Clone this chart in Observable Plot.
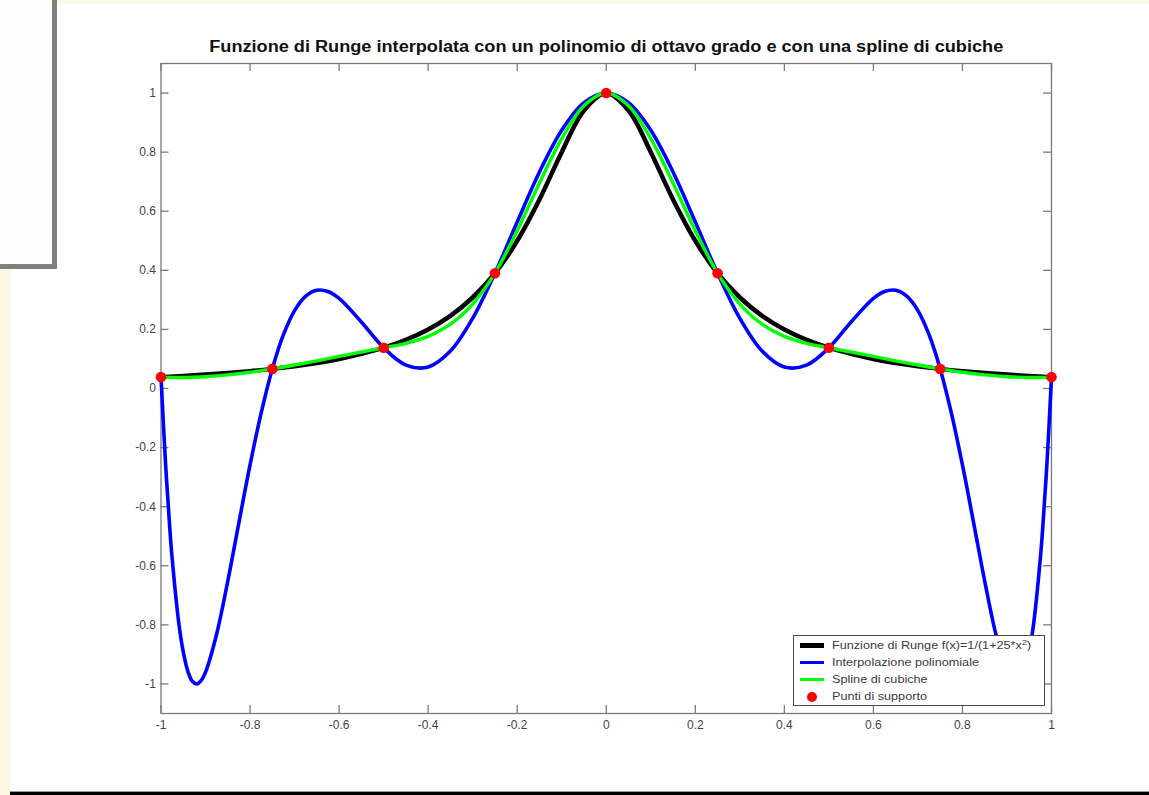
<!DOCTYPE html>
<html>
<head>
<meta charset="utf-8">
<script src="https://cdn.jsdelivr.net/npm/d3@7"></script>
<script src="https://cdn.jsdelivr.net/npm/@observablehq/plot@0.6"></script>
<style>
  html, body { margin: 0; padding: 0; background: #fff; }
  #page { position: relative; width: 1149px; height: 795px; overflow: hidden; background: #fff;
          font-family: "Liberation Sans", Arial, Helvetica, sans-serif; }
  .deco { position: absolute; }
  #chart { position: absolute; left: 0; top: 0; }
  #title { position: absolute; left: 160.5px; width: 890.5px; top: 38.5px; text-align: center;
           font-weight: bold; font-size: 16px; line-height: 16px; color: #111; white-space: nowrap; }
  #title span { display: inline-block; transform-origin: center; }
  #legend { position: absolute; left: 792.5px; top: 635px; width: 252.5px; height: 71px; box-sizing: border-box;
            border: 1px solid #4a4a4a; background: #fff; }
  .row { position: absolute; left: 0; width: 100%; height: 0; }
  .sample { position: absolute; left: 6.5px; width: 23.5px; }
  .ldot { position: absolute; width: 10px; height: 10px; border-radius: 50%; left: 13.5px; top: -5px; }
  .ltext { position: absolute; left: 38.7px; top: -7px; font-size: 11px; line-height: 13px; color: #3a3a3a;
           white-space: nowrap; transform: scaleX(1.15); transform-origin: left center; }
  .ltext sup { font-size: 8px; vertical-align: 4px; line-height: 0; }
</style>
</head>
<body>
<div id="page">
  <div id="chart"></div>
  <div class="deco" style="left:57px; top:0; width:1092px; height:3.5px; background:#fafae4;"></div>
  <div class="deco" style="left:0; top:269px; width:10px; height:526px; background:#fafae4;"></div>
  <div class="deco" style="left:0; top:0; width:52px; height:264px; background:#fdfdfd;"></div>
  <div class="deco" style="left:52px; top:0; width:5px; height:269px; background:#808080;"></div>
  <div class="deco" style="left:0; top:264px; width:57px; height:5px; background:#808080;"></div>
  <div class="deco" style="left:10px; top:791px; width:1139px; height:1px; background:#9a9a9a;"></div>
  <div class="deco" style="left:10px; top:792px; width:1139px; height:3px; background:#000;"></div>
  <div id="title"><span id="titleText"></span></div>
  <div id="legend"></div>
</div>
<script>
// ---- Data ----
const titleText = "Funzione di Runge interpolata con un polinomio di ottavo grado e con una spline di cubiche";

const xTicks = [-1, -0.8, -0.6, -0.4, -0.2, 0, 0.2, 0.4, 0.6, 0.8, 1];
const xTickLabels = ["-1", "-0.8", "-0.6", "-0.4", "-0.2", "0", "0.2", "0.4", "0.6", "0.8", "1"];
const yTicks = [-1, -0.8, -0.6, -0.4, -0.2, 0, 0.2, 0.4, 0.6, 0.8, 1];
const yTickLabels = ["-1", "-0.8", "-0.6", "-0.4", "-0.2", "0", "0.2", "0.4", "0.6", "0.8", "1"];

// Runge function and cubic spline sampled along x
const xGrid = [-1, -0.95, -0.9, -0.85, -0.8, -0.75, -0.7, -0.65, -0.6, -0.55, -0.5, -0.45, -0.4, -0.35, -0.3, -0.25, -0.2, -0.15, -0.1, -0.05,
               0, 0.05, 0.1, 0.15, 0.2, 0.25, 0.3, 0.35, 0.4, 0.45, 0.5, 0.55, 0.6, 0.65, 0.7, 0.75, 0.8, 0.85, 0.9, 0.95, 1];
const rungeY = [0.0385, 0.0424, 0.0471, 0.0525, 0.0588, 0.0664, 0.0755, 0.0865, 0.1, 0.117, 0.138, 0.165, 0.2, 0.246, 0.308, 0.39, 0.5, 0.64, 0.8, 0.941,
                1, 0.941, 0.8, 0.64, 0.5, 0.39, 0.308, 0.246, 0.2, 0.165, 0.138, 0.117, 0.1, 0.0865, 0.0755, 0.0664, 0.0588, 0.0525, 0.0471, 0.0424, 0.0385];
const splineY = [0.0385, 0.0372, 0.04, 0.0461, 0.0551, 0.0664, 0.0794, 0.0936, 0.1085, 0.1234, 0.1379, 0.153, 0.1765, 0.2176, 0.2857, 0.3902, 0.5342, 0.6954, 0.8457, 0.9567,
                 1, 0.9567, 0.8457, 0.6954, 0.5342, 0.3902, 0.2857, 0.2176, 0.1765, 0.153, 0.1379, 0.1234, 0.1085, 0.0936, 0.0794, 0.0664, 0.0551, 0.0461, 0.04, 0.0372, 0.0385];

// Polynomial interpolation (8th degree)
const polyX = [-1, -0.99, -0.98, -0.975, -0.96, -0.95, -0.94, -0.93, -0.92, -0.91, -0.9, -0.875, -0.85, -0.825, -0.8, -0.775, -0.75, -0.725, -0.7, -0.675, -0.65, -0.625, -0.6, -0.55, -0.5, -0.45, -0.4, -0.35, -0.3, -0.25, -0.2, -0.15, -0.1, -0.05,
               0, 0.05, 0.1, 0.15, 0.2, 0.25, 0.3, 0.35, 0.4, 0.45, 0.5, 0.55, 0.6, 0.625, 0.65, 0.675, 0.7, 0.725, 0.75, 0.775, 0.8, 0.825, 0.85, 0.875, 0.9, 0.91, 0.92, 0.93, 0.94, 0.95, 0.96, 0.975, 0.98, 0.99, 1];
const polyY = [0.0385, -0.2479, -0.4781, -0.5739, -0.7942, -0.8917, -0.9555, -0.9901, -1.0001, -0.9889, -0.9601, -0.831, -0.6518, -0.4537, -0.2587, -0.0822, 0.0664, 0.1821, 0.2638, 0.3128, 0.3327, 0.3282, 0.3049, 0.2251, 0.1379, 0.0793, 0.0726, 0.1266, 0.2374, 0.3902, 0.5636, 0.7328, 0.874, 0.9674,
               1, 0.9674, 0.874, 0.7328, 0.5636, 0.3902, 0.2374, 0.1266, 0.0726, 0.0793, 0.1379, 0.2251, 0.3049, 0.3282, 0.3327, 0.3128, 0.2638, 0.1821, 0.0664, -0.0822, -0.2587, -0.4537, -0.6518, -0.831, -0.9601, -0.9889, -1.0001, -0.9901, -0.9555, -0.8917, -0.7942, -0.5739, -0.4781, -0.2479, 0.0385];

// Support points
const nodeX = [-1, -0.75, -0.5, -0.25, 0, 0.25, 0.5, 0.75, 1];
const nodeY = [0.0385, 0.0664, 0.1379, 0.3902, 1, 0.3902, 0.1379, 0.0664, 0.0385];

// Legend
const seriesNames = ["Funzione di Runge f(x)=1/(1+25*x<sup>2</sup>)", "Interpolazione polinomiale", "Spline di cubiche", "Punti di supporto"];
const seriesColors = ["#000000", "#0000ff", "#00ff00", "#ff0000"];

// ---- Build tables ----
const runge = xGrid.map((x, i) => ({x, y: rungeY[i]}));
const spline = xGrid.map((x, i) => ({x, y: splineY[i]}));
const poly = polyX.map((x, i) => ({x, y: polyY[i]}));
const nodes = nodeX.map((x, i) => ({x, y: nodeY[i]}));

const W = 1149, H = 795, mL = 160.5, mR = 98, mT = 63, mB = 82;
const plotW = W - mL - mR, plotH = H - mT - mB;
const axisColor = "#7a7a7a", tickLen = 8;

const chart = Plot.plot({
  width: W, height: H,
  marginLeft: mL, marginRight: mR, marginTop: mT, marginBottom: mB,
  style: {background: "transparent", fontFamily: "'Liberation Sans', Arial, sans-serif", fontSize: "12px"},
  x: {domain: [-1, 1], label: null},
  y: {domain: [-1.1, 1.1], label: null},
  marks: [
    Plot.frame({stroke: axisColor, strokeWidth: 1.3}),
    Plot.tickX(xTicks, {x: d => d, insetTop: plotH - tickLen, stroke: axisColor, strokeWidth: 1.3}),
    Plot.tickX(xTicks, {x: d => d, insetBottom: plotH - tickLen, stroke: axisColor, strokeWidth: 1.3}),
    Plot.tickY(yTicks, {y: d => d, insetRight: plotW - tickLen, stroke: axisColor, strokeWidth: 1.3}),
    Plot.tickY(yTicks, {y: d => d, insetLeft: plotW - tickLen, stroke: axisColor, strokeWidth: 1.3}),
    Plot.axisX({ticks: xTicks, tickSize: 0, tickPadding: 7, fill: "#444",
                tickFormat: d => xTickLabels[xTicks.indexOf(d)]}),
    Plot.axisY({ticks: yTicks, tickSize: 0, tickPadding: 5, fill: "#444",
                tickFormat: d => yTickLabels[yTicks.indexOf(d)]}),
    Plot.line(runge, {x: "x", y: "y", stroke: seriesColors[0], strokeWidth: 4.5, curve: "catmull-rom"}),
    Plot.line(poly, {x: "x", y: "y", stroke: seriesColors[1], strokeWidth: 3.6, curve: "catmull-rom"}),
    Plot.line(spline, {x: "x", y: "y", stroke: seriesColors[2], strokeWidth: 3.4, curve: "catmull-rom"}),
    Plot.dot(nodes, {x: "x", y: "y", r: 5.3, fill: seriesColors[3], stroke: null})
  ]
});
document.getElementById("chart").appendChild(chart);

// ---- Title (stretched to match the reference width) ----
const tspan = document.getElementById("titleText");
tspan.textContent = titleText;
const cvs = document.createElement("canvas").getContext("2d");
cvs.font = "bold 16px 'Liberation Sans', Arial, sans-serif";
const tw = cvs.measureText(titleText).width;
tspan.style.transform = `scaleX(${794 / tw})`;

// ---- Legend ----
const legend = document.getElementById("legend");
const rowTops = [10.5, 27.5, 44.5, 61.5];
const sampleWidths = [4.2, 3.6, 3.2];
seriesNames.forEach((name, i) => {
  const row = document.createElement("div");
  row.className = "row";
  row.style.top = (rowTops[i] - 1) + "px";
  if (i < 3) {
    const s = document.createElement("div");
    s.className = "sample";
    s.style.height = sampleWidths[i] + "px";
    s.style.top = (-sampleWidths[i] / 2) + "px";
    s.style.background = seriesColors[i];
    row.appendChild(s);
  } else {
    const d = document.createElement("div");
    d.className = "ldot";
    d.style.background = seriesColors[i];
    row.appendChild(d);
  }
  const t = document.createElement("div");
  t.className = "ltext";
  t.innerHTML = name;
  row.appendChild(t);
  legend.appendChild(row);
});
</script>
</body>
</html>
